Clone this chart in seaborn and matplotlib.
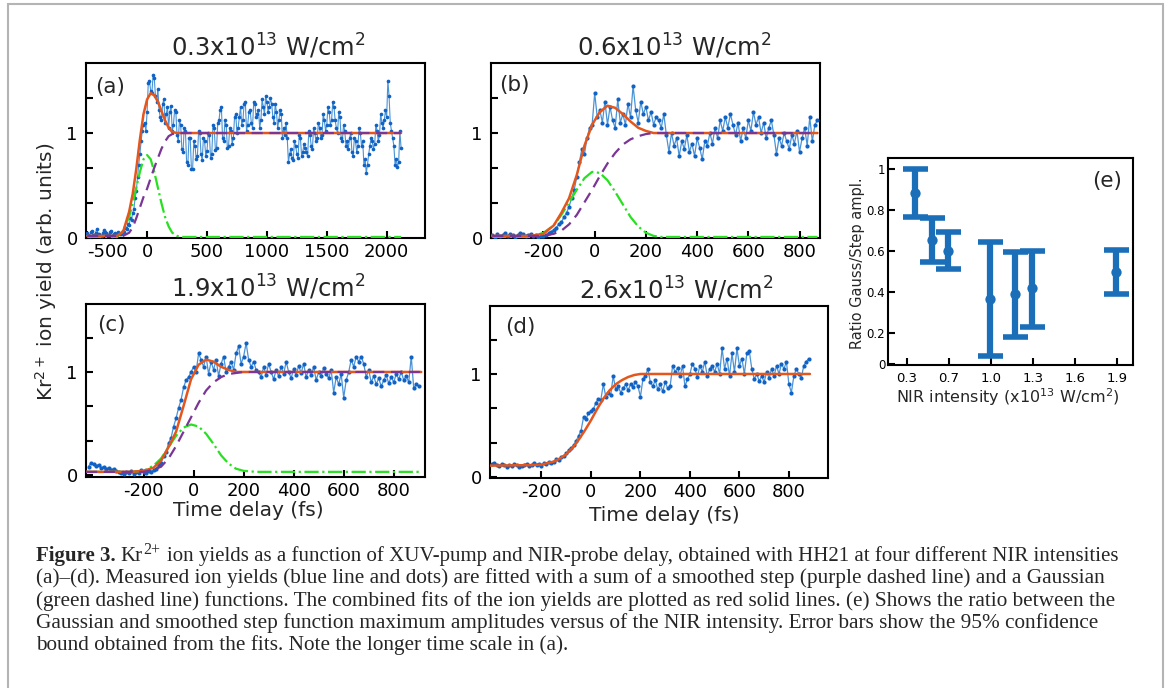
import numpy as np
import pandas as pd
import matplotlib
matplotlib.use("Agg")
import matplotlib.pyplot as plt
import seaborn as sns
from matplotlib.patches import Rectangle

# ---------------- data ----------------
# measured Kr2+ yields (blue line and dots)
a_start, a_step = -500, 10
a_y = [0.05, 0.03, 0.02, 0.06, 0.07, 0.03, 0.03, 0.05, 0.09, 0.04,
       0.04, 0.02, 0.02, 0.05, 0.08, 0.06, 0.05, 0.03, 0.03, 0.06,
       0.07, 0.02, 0.04, 0.05, 0.02, 0.03, 0.06, 0.04, 0.04, 0.05,
       0.07, 0.06, 0.10, 0.09, 0.13, 0.12, 0.19, 0.17, 0.24, 0.28,
       0.38, 0.45, 0.58, 0.70, 0.80, 0.92, 1.02, 1.08, 1.10, 1.02,
       1.20, 1.48, 1.50, 1.40, 1.38, 1.55, 1.52, 1.35, 1.30, 1.42,
       1.22, 1.15, 1.12, 1.28, 1.32, 1.10, 1.18, 1.25, 1.05, 1.20,
       1.26, 1.02, 1.08, 1.22,
       1.20, 0.98, 0.92, 1.12, 1.08, 0.85, 0.82, 1.05, 1.02, 0.72,
       0.70, 0.95, 0.95, 0.66, 0.66, 0.92, 0.88, 0.75, 0.78, 1.02,
       1.00, 0.80, 0.74, 0.95, 0.92, 0.78, 0.83, 1.00, 0.98, 0.76,
       0.80, 1.08, 1.05, 0.84, 0.86, 1.10, 1.12, 1.22, 1.25, 0.95,
       0.92, 1.12, 1.08, 0.86, 0.88, 1.05, 1.02, 0.90, 0.95, 1.15,
       1.18, 1.00,
       1.05, 1.15, 1.25, 1.08, 1.12, 1.28, 1.30, 1.02, 1.08, 1.20,
       1.22, 1.10, 1.05, 1.30, 1.28, 1.15, 1.18, 1.22, 1.05, 1.12,
       1.32, 1.25, 1.18, 1.35, 1.30, 1.20, 1.25, 1.33, 1.28, 1.15,
       1.10, 1.28, 1.20, 1.05, 1.12, 1.22, 1.18, 0.95, 1.05, 0.98,
       1.10, 0.95,
       0.72, 0.80, 0.85, 0.76, 0.74, 0.92, 0.88, 0.80, 0.76, 0.98,
       0.95, 0.78, 0.82, 0.90, 0.86, 0.82, 0.78, 1.02, 0.98, 0.88,
       0.85, 1.05, 1.00, 0.92, 0.95, 1.10, 1.05, 0.95, 0.98, 1.18,
       1.12, 1.02, 1.08, 1.25, 1.20, 1.08, 1.12, 1.30, 1.25, 1.12,
       1.05, 1.00, 1.20, 1.15, 0.95, 0.92, 1.08, 1.02, 0.88, 0.92,
       0.85, 0.95, 1.00, 0.82, 0.78, 0.95, 0.92, 0.82, 0.88, 1.05,
       1.00, 0.88, 0.92, 0.70, 0.75, 0.62, 0.70, 0.80, 0.88, 0.95,
       0.92, 0.85, 0.90, 1.08, 1.02, 0.92, 0.98, 1.18, 1.10, 1.05,
       1.12, 1.22, 1.15, 1.50, 1.35, 1.10, 1.02, 0.95, 0.88, 0.70,
       0.75, 0.68, 0.72, 1.02, 0.86]

b_start, b_step = -400, 10
b_y = [0.03, 0.01, 0.04, 0.02, 0.03, 0.05, 0.02, 0.04, 0.03, 0.01, 0.03, 0.05, 0.04, 0.02, 0.03,
       0.04, 0.02, 0.03, 0.01, 0.02,
       0.02, 0.03, 0.05, 0.06, 0.08, 0.10, 0.13, 0.15, 0.20, 0.24,
       0.30, 0.38, 0.46, 0.58, 0.72, 0.85, 0.80, 0.95, 1.05, 1.08, 1.38,
       1.15, 1.22, 1.10, 1.30, 1.08, 1.25, 1.12, 1.05, 1.32, 1.10, 1.18, 1.08, 1.28, 1.15, 1.45,
       1.22, 1.10, 1.30, 1.18, 1.25, 1.12, 1.20, 1.08, 1.15, 1.12,
       1.05, 1.18, 0.98, 0.82, 1.00, 0.88, 0.95, 0.78, 0.92, 0.85, 0.98, 0.82, 0.90, 0.78, 0.95,
       0.86, 0.75, 0.92, 0.88,
       1.00, 0.90, 1.05, 0.95, 1.12, 1.02, 1.15, 1.05, 1.18, 1.08, 0.98, 1.10, 0.92, 1.05, 0.95,
       1.12, 1.02, 1.20, 1.08, 1.15, 1.00, 1.10, 0.95, 1.05, 1.12, 0.98,
       0.80, 0.95, 0.88, 1.00, 0.92, 0.85, 0.98, 0.90, 1.02, 0.82, 0.95, 1.05, 0.88, 1.15, 0.92,
       1.08, 1.12]

c_start, c_step = -420, 10
c_y = [0.08, 0.12, 0.11, 0.09, 0.10, 0.07, 0.08, 0.06, 0.07, 0.05, 0.06, 0.04,
       0.03, 0.02, 0.01, 0.03, 0.02, 0.04, 0.01, 0.03, 0.02, 0.05, 0.03, 0.02, 0.04, 0.03, 0.05,
       0.06, 0.10, 0.12, 0.18, 0.22, 0.31, 0.36, 0.47, 0.55, 0.65, 0.73, 0.85, 0.92, 0.95, 1.00, 1.05,
       1.00, 1.18, 1.12, 1.05, 1.15, 0.98, 1.10, 1.02, 1.12, 0.96, 1.08, 1.15, 1.00, 1.05, 1.10,
       1.02, 1.18, 1.25, 1.08, 1.15, 1.28, 1.12, 1.05, 1.10, 1.02,
       1.00, 0.95, 1.05, 0.97, 1.08, 1.00, 0.93, 1.02, 0.96, 1.05, 0.98, 1.10, 1.00, 0.94, 1.03,
       0.97, 1.06, 0.99, 1.08, 0.95, 1.02, 0.97, 1.05, 0.92, 1.00, 0.96, 1.04, 0.98, 0.94, 1.02,
       0.80, 0.95, 0.88, 0.98, 0.75, 0.92, 1.00, 1.12, 1.05, 1.15,
       1.10, 1.15, 1.08, 0.95, 1.02, 0.90, 0.96, 0.88, 0.94, 0.86, 0.92, 0.97, 0.89, 0.95, 0.90,
       0.98, 0.93, 1.00, 0.92, 0.96, 0.90, 1.15,
       0.84, 0.88, 0.86]

d_start, d_step = -400, 10
d_y = [0.13, 0.14, 0.12, 0.11, 0.13, 0.12, 0.10, 0.12, 0.11, 0.13, 0.12, 0.10, 0.11, 0.12, 0.13,
       0.11, 0.12, 0.14, 0.12, 0.13, 0.11, 0.14, 0.13, 0.15, 0.14,
       0.15, 0.17, 0.16, 0.19, 0.20, 0.23, 0.26, 0.28, 0.31, 0.35, 0.40, 0.45, 0.58, 0.56, 0.62, 0.64,
       0.66, 0.72, 0.76, 0.75, 0.90, 0.78, 0.82, 0.80, 0.98, 0.85, 0.88, 0.82, 0.86, 0.90, 0.84,
       0.90, 0.87, 0.92, 0.88, 0.78, 0.95, 0.98, 1.05, 0.92, 0.88, 0.94, 0.85, 0.90, 0.83, 0.92,
       0.86, 0.88, 1.08,
       1.02, 1.06, 0.98, 1.08, 0.88, 0.95, 1.00, 1.10, 1.05, 0.97, 1.08, 1.02, 1.12, 0.98, 1.05,
       1.08, 1.02,
       1.10, 1.00, 1.25, 1.05, 1.15, 0.98, 1.20, 1.02, 1.25, 1.08, 1.15, 1.00, 1.20, 1.22, 1.05,
       0.95, 1.00, 0.93, 0.98, 0.92, 1.02, 0.96, 1.05, 0.98, 1.08, 1.00, 1.10, 1.05, 1.12, 0.90,
       0.82, 0.98, 1.05, 1.00, 0.96, 1.08, 1.12, 1.15]

# fitted curves (step, Gaussian, sum)
fa_x = [-500, -250, -200, -150, -120, -90, -60, -30, 0, 30, 60, 90, 120, 150, 180, 210, 250, 300, 2120]
fa_step = [0.02, 0.02, 0.02, 0.05, 0.10, 0.19, 0.29, 0.39, 0.47, 0.57, 0.67, 0.76, 0.85, 0.92, 0.97, 0.99, 1.00, 1.00, 1.00]
fa_gauss = [0.01, 0.01, 0.07, 0.20, 0.33, 0.48, 0.63, 0.75, 0.79, 0.75, 0.63, 0.48, 0.33, 0.20, 0.11, 0.05, 0.02, 0.01, 0.01]
fa_total = [0.02, 0.02, 0.06, 0.25, 0.42, 0.66, 0.94, 1.18, 1.32, 1.38, 1.36, 1.30, 1.21, 1.12, 1.05, 1.01, 1.00, 1.00, 1.00]

fb_x = [-400, -250, -200, -160, -130, -100, -70, -40, -10, 20, 50, 80, 110, 140, 170, 200, 230, 260, 300, 870]
fb_step = [0.02, 0.02, 0.02, 0.04, 0.07, 0.13, 0.22, 0.34, 0.46, 0.59, 0.71, 0.81, 0.89, 0.94, 0.97, 0.99, 1.00, 1.00, 1.00, 1.00]
fb_gauss = [0.01, 0.01, 0.05, 0.12, 0.22, 0.34, 0.46, 0.57, 0.63, 0.62, 0.55, 0.44, 0.32, 0.20, 0.11, 0.05, 0.02, 0.01, 0.01, 0.01]
fb_total = [0.02, 0.02, 0.04, 0.12, 0.24, 0.38, 0.60, 0.88, 1.08, 1.20, 1.26, 1.24, 1.18, 1.11, 1.05, 1.02, 1.00, 1.00, 1.00, 1.00]

fc_x = [-430, -250, -200, -160, -130, -100, -70, -40, -10, 20, 50, 80, 110, 140, 170, 200, 250, 910]
fc_step = [0.03, 0.03, 0.03, 0.05, 0.08, 0.16, 0.28, 0.42, 0.56, 0.70, 0.82, 0.90, 0.95, 0.98, 0.99, 1.00, 1.00, 1.00]
fc_gauss = [0.03, 0.03, 0.04, 0.09, 0.16, 0.27, 0.38, 0.46, 0.49, 0.47, 0.40, 0.30, 0.19, 0.11, 0.06, 0.04, 0.03, 0.03]
fc_total = [0.03, 0.03, 0.04, 0.07, 0.14, 0.27, 0.42, 0.67, 0.93, 1.07, 1.12, 1.10, 1.05, 1.02, 1.00, 1.00, 1.00, 1.00]

fd_x = [-410, -250, -200, -150, -125, -100, -75, -50, -25, 0, 25, 50, 75, 100, 125, 150, 175, 200, 250, 885]
fd_total = [0.11, 0.115, 0.12, 0.15, 0.18, 0.22, 0.28, 0.36, 0.45, 0.55, 0.66, 0.76, 0.84, 0.90, 0.94, 0.97, 0.99, 1.00, 1.00, 1.00]

# panel (e): ratio Gauss / step amplitude with 95% bounds
e_x = [0.457, 0.576, 0.690, 0.993, 1.171, 1.290, 1.893]
e_ratio = [0.883, 0.655, 0.603, 0.367, 0.390, 0.420, 0.501]
e_low = [0.769, 0.550, 0.512, 0.091, 0.184, 0.233, 0.392]
e_high = [1.000, 0.764, 0.696, 0.647, 0.598, 0.603, 0.607]
e_ticks = [0.4, 0.7, 1.0, 1.3, 1.6, 1.9]
e_ticklabels = ['0.3', '0.7', '1.0', '1.3', '1.6', '1.9']

titles = ["0.3x10$^{13}$ W/cm$^2$", "0.6x10$^{13}$ W/cm$^2$",
          "1.9x10$^{13}$ W/cm$^2$", "2.6x10$^{13}$ W/cm$^2$"]

caption_head = ["Figure 3.", "Kr", "2+",
                "ion yields as a function of XUV-pump and NIR-probe delay, obtained with HH21 at four different NIR intensities"]
caption_lines = [
    "(a)\u2013(d). Measured ion yields (blue line and dots) are fitted with a sum of a smoothed step (purple dashed line) and a Gaussian",
    "(green dashed line) functions. The combined fits of the ion yields are plotted as red solid lines. (e) Shows the ratio between the",
    "Gaussian and smoothed step function maximum amplitudes versus of the NIR intensity. Error bars show the 95% confidence",
    "bound obtained from the fits. Note the longer time scale in (a).",
]

# ---------------- style ----------------
sns.set_theme(style="ticks")
plt.rcParams['font.family'] = ['DejaVu Sans']
plt.rcParams['axes.unicode_minus'] = False
plt.rcParams['mathtext.fontset'] = 'dejavusans'

LINE_C = '#4a93d6'
DOT_C = '#1062c4'
RED = '#e4561c'
PURPLE = '#7a3595'
GREEN = '#27e020'
EBAR = '#1a6fb8'

W, H = 1167, 688
fig = plt.figure(figsize=(W / 100, H / 100), dpi=100)


def add_ax(l, t, r, b):
    return fig.add_axes([l / W, 1 - b / H, (r - l) / W, (b - t) / H])


def series(start, step, y):
    return pd.DataFrame({'delay': start + step * np.arange(len(y)), 'yield': y})


def style(ax, labelsize=13):
    ax.tick_params(direction='in', length=5, width=1.5, labelsize=labelsize,
                   top=False, right=False, colors='black')
    ax.tick_params(axis='x', pad=3.5)
    ax.tick_params(axis='y', pad=6)
    for s in ax.spines.values():
        s.set_visible(True)
        s.set_linewidth(1.5)
        s.set_color('black')
    ax.grid(False)


panels = [
    dict(box=(86, 63, 425, 238), df=series(a_start, a_step, a_y), fx=fa_x, fs=fa_step, fg=fa_gauss,
         ft=fa_total, xlim=(-510, 2320), ylim=(0, 1.667), xt=[-500, 0, 500, 1000, 1500, 2000],
         lab='(a)', lpos=(0.027, 0.863), tx=0.537, ms=7, lw=0.8),
    dict(box=(491, 63, 820, 238), df=series(b_start, b_step, b_y), fx=fb_x, fs=fb_step, fg=fb_gauss,
         ft=fb_total, xlim=(-405, 880), ylim=(0, 1.667), xt=[-200, 0, 200, 400, 600, 800],
         lab='(b)', lpos=(0.024, 0.874), tx=0.556, ms=9, lw=0.9),
    dict(box=(86, 304, 425, 477), df=series(c_start, c_step, c_y), fx=fc_x, fs=fc_step, fg=fc_gauss,
         ft=fc_total, xlim=(-430, 925), ylim=(-0.02, 1.66), xt=[-200, 0, 200, 400, 600, 800],
         lab='(c)', lpos=(0.032, 0.879), tx=0.537, ms=9, lw=0.9),
    dict(box=(490, 306, 828, 478), df=series(d_start, d_step, d_y), fx=fd_x, fs=None, fg=None,
         ft=fd_total, xlim=(-408, 958), ylim=(-0.01, 1.66), xt=[-200, 0, 200, 400, 600, 800],
         lab='(d)', lpos=(0.044, 0.878), tx=0.55, ms=9, lw=0.9),
]

axes = []
for i, p in enumerate(panels):
    ax = add_ax(*p['box'])
    axes.append(ax)
    df = p['df']
    sns.lineplot(data=df, x='delay', y='yield', ax=ax, color=LINE_C, lw=p['lw'], zorder=2)
    sns.scatterplot(data=df, x='delay', y='yield', ax=ax, color=DOT_C, s=p['ms'],
                    linewidth=0, zorder=3)
    fit = pd.DataFrame({'delay': p['fx'], 'total': p['ft']})
    if p['fg'] is not None:
        fit['gauss'] = p['fg']
        fit['step'] = p['fs']
        sns.lineplot(data=fit, x='delay', y='gauss', ax=ax, color=GREEN, lw=1.6,
                     linestyle='-.', zorder=4)
    sns.lineplot(data=fit, x='delay', y='total', ax=ax, color=RED, lw=1.8, zorder=5)
    if p['fs'] is not None:
        ln = sns.lineplot(data=fit, x='delay', y='step', ax=ax, color=PURPLE, lw=1.6, zorder=6)
        ln.lines[-1].set_dashes((5, 3))
    ax.set_xlim(*p['xlim'])
    ax.set_ylim(*p['ylim'])
    ax.set_xticks(p['xt'])
    ax.set_xticklabels([str(v) for v in p['xt']])
    ax.set_yticks([0, 1 / 3, 2 / 3, 1, 4 / 3])
    ax.set_yticklabels(['0', '', '', '1', ''])
    ax.set_xlabel('')
    ax.set_ylabel('')
    style(ax)
    ax.set_title(titles[i], fontsize=17.5, x=p['tx'], pad=5)
    ax.text(p['lpos'][0], p['lpos'][1], p['lab'], transform=ax.transAxes,
            fontsize=15.5, ha='left', va='center')

# first tick label of (a) sits to the right of its tick, as in the reference
axes[0].get_xticklabels()[0].set_horizontalalignment('left')

axes[2].set_xlabel('Time delay (fs)', fontsize=14.5)
axes[2].xaxis.set_label_coords(0.48, -0.139)
axes[3].set_xlabel('Time delay (fs)', fontsize=14.5)
axes[3].xaxis.set_label_coords(0.515, -0.165)
fig.text(46 / W, 1 - 272 / H, 'Kr$^{2+}$ ion yield (arb. units)', rotation=90,
         ha='center', va='center', fontsize=14.5)

# panel (e)
axe = add_ax(888, 158, 1133, 365)
edf = pd.DataFrame({'x': e_x, 'ratio': e_ratio, 'low': e_low, 'high': e_high})
axe.errorbar(edf['x'], edf['ratio'],
             yerr=[edf['ratio'] - edf['low'], edf['high'] - edf['ratio']],
             fmt='none', ecolor=EBAR, elinewidth=4.5, capsize=9, capthick=4, zorder=2)
sns.scatterplot(data=edf, x='x', y='ratio', ax=axe, color=EBAR, s=55, linewidth=0, zorder=3)
axe.set_xlim(0.264, 2.014)
axe.set_ylim(0.0455, 1.055)
axe.set_xticks(e_ticks)
axe.set_xticklabels(e_ticklabels)
axe.set_yticks([0.05, 0.2, 0.4, 0.6, 0.8, 1.0])
axe.set_yticklabels(['0', '0.2', '0.4', '0.6', '0.8', '1'])
style(axe, labelsize=9.5)
axe.tick_params(axis='x', pad=5)
axe.tick_params(axis='y', pad=2, labelsize=8.5)
axe.set_xlabel('NIR intensity (x10$^{13}$ W/cm$^2$)', fontsize=11.5)
axe.xaxis.set_label_coords(0.49, -0.105)
axe.set_ylabel('Ratio Gauss/Step ampl.', fontsize=10.5)
axe.yaxis.set_label_coords(-0.095, 0.493)
axe.text(0.894, 0.889, '(e)', transform=axe.transAxes, fontsize=15.5, ha='center', va='center')

# border around figure + caption
fig.patches.append(Rectangle((8 / W, -0.05), (1163 - 8) / W, 1.05 - 4 / H,
                             transform=fig.transFigure, fill=False, edgecolor='#b4b4b4',
                             lw=1.5, zorder=0))

# caption
CAP_FS = 15.3
HEAD_FS = 15.05
serif = ['Liberation Serif', 'DejaVu Serif']
renderer = fig.canvas.get_renderer()
base0 = 561
gap = 22.3
x0 = 36
# first line assembled from pieces: bold label, "Kr", raised "2+", rest of the sentence
t = fig.text(x0 / W, 1 - base0 / H, caption_head[0], family=serif, fontweight='bold',
             fontsize=HEAD_FS, ha='left', va='baseline')
xr = t.get_window_extent(renderer).x1 + 5
t = fig.text(xr / W, 1 - base0 / H, caption_head[1], family=serif,
             fontsize=HEAD_FS, ha='left', va='baseline')
xr = t.get_window_extent(renderer).x1 + 1
t = fig.text(xr / W, 1 - (base0 - 7) / H, caption_head[2], family=serif,
             fontsize=11.5, ha='left', va='baseline')
xr = t.get_window_extent(renderer).x1 + 6
fig.text(xr / W, 1 - base0 / H, caption_head[3], family=serif,
         fontsize=HEAD_FS, ha='left', va='baseline')
for k, line in enumerate(caption_lines, start=1):
    fig.text(x0 / W, 1 - (base0 + k * gap) / H, line, family=serif, fontsize=CAP_FS,
             ha='left', va='baseline')

fig.savefig('out.png', dpi=100)
